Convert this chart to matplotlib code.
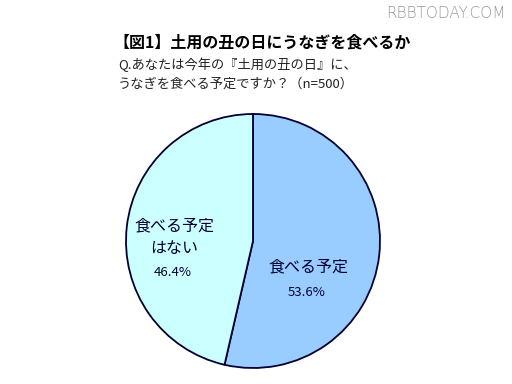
import matplotlib
matplotlib.use("Agg")
import matplotlib.pyplot as plt

plt.rcParams['font.family'] = ['Noto Sans CJK JP', 'DejaVu Sans']

# data
labels = ['食べる予定', '食べる予定\nはない']
values = [53.6, 46.4]
colors = ['#99CCFF', '#CCFFFF']

title = '【図1】土用の丑の日にうなぎを食べるか'
question = 'Q.あなたは今年の『土用の丑の日』に、\nうなぎを食べる予定ですか？（n=500）'

W, H = 512, 384
fig = plt.figure(figsize=(W / 100, H / 100), dpi=100)
ax = fig.add_axes([0, 0, 1, 1])

cx, cy, r = 253, H - 241, 127
ax.pie(values, colors=colors, startangle=90, counterclock=False,
       center=(cx, cy), radius=r, frame=True,
       wedgeprops=dict(edgecolor='#000033', linewidth=1.3))
ax.set_xlim(0, W)
ax.set_ylim(0, H)
ax.set_aspect('equal')
ax.axis('off')

txt_color = '#000033'
ax.text(308, H - 267, labels[0], ha='center', va='center', fontsize=11.5, color=txt_color)
ax.text(307, H - 292, f'{values[0]}%', ha='center', va='center', fontsize=9.5, color=txt_color)
ax.text(174, H - 237, labels[1], ha='center', va='center', fontsize=11.5,
        color=txt_color, linespacing=1.45)
ax.text(173, H - 273, f'{values[1]}%', ha='center', va='center', fontsize=9.5, color=txt_color)

ax.text(113, H - 42, title, ha='left', va='center', fontsize=11.5,
        fontweight='bold', color='black')
ax.text(118, H - 74, question, ha='left', va='center', fontsize=9.5,
        color='#222222', linespacing=1.55)

ax.text(506, H - 13, 'RBBTODAY.COM', ha='right', va='center', fontsize=11,
        color='#999999', family=['DejaVu Sans'], fontweight='light')

fig.savefig('out.png', dpi=100)
plt.close(fig)
